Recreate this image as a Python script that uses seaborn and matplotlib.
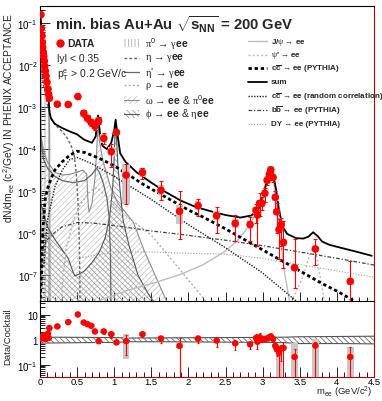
import numpy as np
import pandas as pd
import matplotlib
matplotlib.use("Agg")
import matplotlib.pyplot as plt
import seaborn as sns
from matplotlib.patches import Rectangle
from matplotlib.lines import Line2D
from matplotlib.ticker import LogLocator, MultipleLocator, NullFormatter, FixedLocator, FixedFormatter

# ---------------- data points (PHENIX min. bias Au+Au) ----------------
mass = [0.013, 0.018, 0.027, 0.031, 0.036, 0.045, 0.050, 0.058, 0.063, 0.072, 0.081, 0.094, 0.108, 0.117, 0.126,
        0.233, 0.38, 0.51, 0.59, 0.64, 0.69, 0.74, 0.79, 0.86, 0.96, 1.03,
        1.16, 1.38, 1.63, 1.88,
        2.13, 2.38, 2.63, 2.83,
        2.91, 2.93, 2.96, 2.99, 3.03, 3.06, 3.09, 3.11, 3.14, 3.17, 3.19, 3.22, 3.25, 3.28,
        3.43, 3.71, 4.18]
dndm = [1.58e-1, 7.4e-2, 5.0e-2, 3.47e-2, 2.63e-2, 2.0e-2, 1.62e-2, 1.26e-2, 9.5e-3, 7.2e-3, 5.4e-3, 3.9e-3, 2.7e-3, 2.0e-3, 1.62e-3,
        1.17e-3, 1.15e-3, 1.78e-3, 7.1e-4, 5.4e-4, 4.3e-4, 3.5e-4, 4.7e-4, 1.8e-4, 8.7e-5, 2.5e-4,
        2.4e-5, 2.75e-5, 1.05e-5, 3.3e-6,
        4.5e-6, 2.6e-6, 1.7e-6, 1.6e-6,
        3.5e-6, 2.7e-6, 5.1e-6, 5.1e-6, 8.9e-6, 1.8e-5, 2.5e-5, 3.2e-5, 2.1e-5, 7.1e-6, 3.2e-6, 1.2e-6, 1.6e-6, 6.0e-7,
        1.5e-7, 4.2e-7, 7.1e-8]
# statistical errors, in decades
stat_up = [0.03, 0.03, 0.03, 0.03, 0.03, 0.03, 0.03, 0.03, 0.03, 0.03, 0.03, 0.03, 0.03, 0.03, 0.03,
           0.03, 0.03, 0.06, 0.08, 0.08, 0.09, 0.09, 0.08, 0.12, 0.18, 0.05,
           0.26, 0.12, 0.23, 0.49,
           0.16, 0.20, 0.20, 0.18,
           0.15, 0.20, 0.25, 0.15, 0.12, 0.10, 0.06, 0.05, 0.08, 0.15, 0.20, 0.25, 0.15, 0.52,
           0.68, 0.24, 0.49]
stat_dn = [0.03, 0.03, 0.03, 0.03, 0.03, 0.03, 0.03, 0.03, 0.03, 0.03, 0.03, 0.03, 0.03, 0.03, 0.03,
           0.03, 0.03, 0.06, 0.08, 0.08, 0.09, 0.09, 0.08, 0.13, 0.37, 0.05,
           0.69, 0.15, 0.23, 0.66,
           0.25, 0.41, 0.41, 0.40,
           0.30, 0.73, 0.30, 0.15, 0.20, 0.10, 0.06, 0.05, 0.10, 0.30, 0.50, 0.70, 0.50, 0.60,
           0.48, 0.38, 0.46]
# systematic errors (grey boxes), in decades
sys_up = [0.05, 0.05, 0.05, 0.05, 0.05, 0.05, 0.05, 0.05, 0.05, 0.05, 0.05, 0.05, 0.05, 0.05, 0.05,
          0.06, 0.06, 0.07, 0.08, 0.08, 0.08, 0.08, 0.08, 0.10, 0.10, 0.06,
          0.26, 0.10, 0.12, 0.15,
          0.10, 0.10, 0.10, 0.10,
          0.08, 0.08, 0.08, 0.08, 0.08, 0.08, 0.08, 0.08, 0.08, 0.08, 0.08, 0.08, 0.08, 0.08,
          0.08, 0.08, 0.08]
sys_dn = [0.05, 0.05, 0.05, 0.05, 0.05, 0.05, 0.05, 0.05, 0.05, 0.05, 0.05, 0.05, 0.05, 0.05, 0.05,
          0.06, 0.06, 0.07, 0.08, 0.08, 0.08, 0.08, 0.08, 0.10, 0.10, 0.06,
          0.69, 0.10, 0.12, 0.30,
          0.10, 0.10, 0.10, 0.10,
          0.08, 0.08, 0.08, 0.08, 0.08, 0.08, 0.08, 0.08, 0.08, 0.08, 0.08, 0.08, 0.08, 0.08,
          0.08, 0.08, 0.08]

# ---------------- Data / Cocktail ----------------
ratio = [1.15, 1.2, 1.25, 1.35, 1.3, 1.2, 1.45, 1.55, 1.3, 1.1, 1.15, 1.25, 1.8, 1.2, 3.0,
         3.5, 5.2, 10.5, 5.0, 4.3, 3.7, 2.2, 0.9, 2.2, 1.7, 0.8,
         0.9, 1.7, 1.15, 0.58,
         1.15, 0.95, 0.74, 0.67,
         1.2, 0.85, 1.3, 1.05, 1.1, 1.15, 1.3, 1.4, 1.1, 0.58, 0.45, 0.31, 0.45, 0.48,
         0.21, 0.6, 0.21]
r_stat_up = [0.04] * 15 + [0.04, 0.04, 0.04, 0.06, 0.06, 0.06, 0.07, 0.08, 0.10, 0.12, 0.05,
                           0.25, 0.10, 0.10, 0.33,
                           0.10, 0.12, 0.12, 0.10,
                           0.15, 0.15, 0.15, 0.10, 0.06, 0.05, 0.05, 0.05, 0.08, 0.10, 0.15, 0.20, 0.15, 0.25,
                           0.30, 0.15, 0.40]
r_stat_dn = [0.04] * 15 + [0.04, 0.04, 0.04, 0.06, 0.06, 0.06, 0.07, 0.08, 0.10, 0.15, 0.05,
                           0.55, 0.10, 0.20, 1.40,
                           0.20, 0.25, 0.25, 0.20,
                           0.20, 0.30, 0.20, 0.10, 0.06, 0.05, 0.05, 0.05, 0.08, 0.20, 0.30, 1.30, 0.50, 1.20,
                           1.30, 1.30, 1.30]
r_sys_up = [0.05] * 15 + [0.05, 0.05, 0.05, 0.06, 0.06, 0.06, 0.06, 0.06, 0.08, 0.08, 0.05,
                          0.30, 0.08, 0.08, 0.10,
                          0.06, 0.06, 0.06, 0.06,
                          0.06, 0.06, 0.06, 0.06, 0.06, 0.06, 0.06, 0.06, 0.06, 0.06, 0.06, 0.30, 0.06, 0.06,
                          0.55, 0.25, 0.40]
r_sys_dn = [0.05] * 15 + [0.05, 0.05, 0.05, 0.06, 0.06, 0.06, 0.06, 0.06, 0.08, 0.08, 0.05,
                          0.70, 0.08, 0.08, 0.10,
                          0.06, 0.06, 0.06, 0.06,
                          0.06, 0.06, 0.06, 0.06, 0.06, 0.06, 0.06, 0.06, 0.06, 0.06, 0.06, 1.00, 0.06, 0.06,
                          1.30, 1.30, 1.30]
band_m = [0.0, 0.5, 1.0, 1.2, 1.7, 2.5, 3.0, 3.3, 3.5, 4.0, 4.5]
band_lo = [0.75, 0.78, 0.80, 0.85, 0.85, 0.82, 0.80, 0.78, 0.72, 0.72, 0.70]
band_hi = [1.30, 1.28, 1.25, 1.20, 1.22, 1.25, 1.27, 1.30, 1.35, 1.38, 1.42]

# ---------------- cocktail components: mass, log10(dN/dm) ----------------
pi0_m = [0.0, 0.01, 0.02, 0.03, 0.05, 0.07, 0.09, 0.11, 0.12, 0.13, 0.135]
pi0_log = [-0.75, -0.85, -1.15, -1.40, -1.85, -2.15, -2.45, -2.80, -3.05, -3.60, -8.5]
eta_m = [0.0, 0.02, 0.05, 0.10, 0.15, 0.20, 0.30, 0.36, 0.42, 0.46, 0.49, 0.51, 0.53, 0.545]
eta_log = [-1.9, -2.15, -2.5, -2.95, -3.25, -3.42, -3.58, -3.72, -3.92, -4.15, -4.6, -5.2, -6.2, -8.5]
etap_m = [0.0, 0.02, 0.05, 0.10, 0.20, 0.30, 0.45, 0.60, 0.70, 0.76, 0.80, 0.85, 0.90, 0.93, 0.95, 0.958]
etap_log = [-3.4, -3.9, -4.25, -4.45, -4.65, -4.75, -4.8, -4.75, -4.6, -4.45, -4.55, -4.8, -5.15, -5.6, -6.5, -8.5]
rho_m = [0.28, 0.30, 0.35, 0.45, 0.55, 0.65, 0.72, 0.77, 0.82, 0.90, 1.0, 1.2, 1.5, 1.9, 2.2, 2.4]
rho_log = [-8.5, -7.2, -6.4, -5.7, -5.3, -5.05, -4.95, -4.92, -5.0, -5.15, -5.35, -5.65, -6.05, -6.9, -7.55, -8.0]
omega_m = [0.0, 0.02, 0.05, 0.10, 0.20, 0.30, 0.40, 0.50, 0.58, 0.63, 0.645, 0.66, 0.70, 0.74, 0.765, 0.782,
           0.80, 0.85, 0.95, 1.05, 1.15, 1.26, 1.40, 1.55, 1.70, 1.80]
omega_log = [-3.3, -3.75, -4.05, -4.3, -4.55, -4.62, -4.6, -4.55, -4.5, -4.6, -5.2, -5.5, -5.3, -4.7, -4.0, -3.35,
             -3.8, -4.3, -4.9, -5.3, -5.5, -5.75, -6.4, -7.0, -7.6, -8.0]
phi_m = [0.0, 0.05, 0.10, 0.20, 0.30, 0.38, 0.44, 0.47, 0.52, 0.60, 0.70, 0.80, 0.88, 0.94, 0.98, 1.0,
         1.012, 1.019, 1.03, 1.05, 1.08, 1.12, 1.20, 1.32, 1.46, 1.60]
phi_log = [-5.2, -5.55, -5.85, -6.15, -6.4, -6.6, -6.9, -7.02, -6.98, -6.9, -6.7, -6.45, -6.1, -5.6, -4.9, -4.2,
           -3.6, -3.4, -3.7, -4.4, -5.0, -5.7, -6.3, -7.0, -7.45, -7.8]
jpsi_m = [0.8, 1.2, 1.6, 1.9, 2.2, 2.47, 2.65, 2.83, 2.93, 3.0, 3.05, 3.08, 3.10, 3.12, 3.15, 3.2, 3.25, 3.3, 3.36, 3.42]
jpsi_log = [-7.6, -7.35, -7.15, -6.98, -6.75, -6.46, -6.2, -5.8, -5.45, -5.1, -4.75, -4.55, -4.48, -4.52, -4.8, -5.5,
            -6.3, -7.0, -7.6, -8.0]
psip_m = [3.3, 3.45, 3.55, 3.62, 3.66, 3.69, 3.72, 3.76, 3.82, 3.9]
psip_log = [-8.0, -7.4, -7.0, -6.6, -6.38, -6.3, -6.45, -6.9, -7.5, -8.0]
ccbar_m = [0.0, 0.02, 0.04, 0.07, 0.1, 0.15, 0.2, 0.3, 0.4, 0.5, 0.6, 0.7, 0.8, 1.0, 1.2, 1.4, 1.6, 1.8,
           2.0, 2.2, 2.5, 2.8, 3.0, 3.2, 3.5, 3.8, 4.0, 4.2, 4.3]
ccbar_log = [-7.7, -7.0, -5.9, -5.2, -4.95, -4.7, -4.5, -4.3, -4.15, -4.05, -4.08, -4.15, -4.22, -4.4, -4.62, -4.85,
             -5.05, -5.25, -5.45, -5.62, -5.9, -6.2, -6.4, -6.6, -6.9, -7.2, -7.38, -7.58, -7.7]
ccrand_m = [0.05, 0.1, 0.2, 0.3, 0.4, 0.5, 0.7, 1.0, 1.5, 2.0, 2.5, 3.0, 3.44, 3.6]
ccrand_log = [-6.8, -5.7, -4.9, -4.5, -4.25, -4.2, -4.35, -4.65, -5.2, -5.8, -6.35, -6.95, -7.6, -7.9]
bbbar_m = [0.0, 0.01, 0.02, 0.05, 0.1, 0.2, 0.3, 0.5, 0.7, 1.0, 1.5, 1.9, 2.5, 3.0, 3.5, 4.0, 4.5]
bbbar_log = [-7.6, -6.9, -6.5, -6.3, -6.15, -5.98, -5.85, -5.75, -5.76, -5.82, -5.95, -6.03, -6.17, -6.3, -6.45,
             -6.6, -6.76]
dy_m = [0.5, 1.0, 1.5, 2.0, 2.5, 3.0, 3.5, 4.0, 4.5]
dy_log = [-6.6, -6.45, -6.45, -6.48, -6.5, -6.6, -6.75, -6.9, -7.05]
sum_m = [0.005, 0.02, 0.03, 0.05, 0.07, 0.09, 0.11, 0.12, 0.13, 0.15, 0.2, 0.3, 0.4, 0.5, 0.55, 0.6, 0.7, 0.75,
         0.782, 0.81, 0.84, 0.9, 0.96, 1.0, 1.019, 1.04, 1.08, 1.15, 1.3, 1.5, 1.7, 1.9, 2.1, 2.3, 2.5, 2.7,
         2.85, 2.95, 3.02, 3.06, 3.1, 3.14, 3.18, 3.22, 3.27, 3.33, 3.45, 3.55, 3.62, 3.68, 3.74, 3.8, 3.9,
         4.1, 4.3, 4.47]
sum_log = [-0.8, -1.15, -1.38, -1.82, -2.1, -2.4, -2.72, -2.92, -3.15, -3.28, -3.4, -3.5, -3.58, -3.65, -3.72,
           -3.78, -3.85, -3.7, -3.2, -3.65, -3.92, -4.0, -3.85, -3.55, -3.3, -3.6, -4.1, -4.3, -4.55, -4.8,
           -5.03, -5.23, -5.38, -5.48, -5.57, -5.63, -5.58, -5.4, -5.05, -4.7, -4.46, -4.6, -4.95, -5.45,
           -5.85, -6.02, -6.12, -6.13, -6.08, -5.98, -6.07, -6.2, -6.28, -6.37, -6.46, -6.54]

x_ticks = [0, 0.5, 1, 1.5, 2, 2.5, 3, 3.5, 4, 4.5]
x_ticklabels = ["0", "0.5", "1", "1.5", "2", "2.5", "3", "3.5", "4", "4.5"]

# ---------------- style ----------------
sns.set_theme(style="ticks")
plt.rcParams.update({
    "mathtext.fontset": "custom",
    "mathtext.rm": "Liberation Serif",
    "mathtext.it": "Liberation Sans:italic",
    "mathtext.bf": "Liberation Sans:bold",
    "mathtext.sf": "Liberation Sans",
    "mathtext.default": "regular",
    "hatch.linewidth": 0.5,
    "axes.linewidth": 0.8,
})
plt.rcParams['font.family'] = ['Liberation Sans', 'DejaVu Sans']

W, H = 382, 402
fig = plt.figure(figsize=(W / 100, H / 100), dpi=100)
fig.patch.set_facecolor("white")


def fx(p):
    return p / W


def fy(p):
    return 1 - p / H


ax = fig.add_axes([fx(40), fy(303), fx(374) - fx(40), fy(7) - fy(303)])
axr = fig.add_axes([fx(40), fy(378), fx(374) - fx(40), fy(302) - fy(378)])


def P(a):
    return 10.0 ** np.asarray(a, dtype=float)


ax.set_yscale("log")
ax.set_xlim(0, 4.5)
ax.set_ylim(10 ** -7.64, 10 ** -0.595)
FLOOR = 1e-10

# hatched regions
ax.fill_between(pi0_m, FLOOR, P(pi0_log), facecolor="none", edgecolor="#a0a0a0", hatch="|||||", lw=0, zorder=1)
ax.fill_between(omega_m, FLOOR, P(omega_log), facecolor="none", edgecolor="#c0c0c0", hatch="//////", lw=0, zorder=1)
ax.fill_between(phi_m, FLOOR, P(phi_log), facecolor="none", edgecolor="#909090", hatch="\\\\\\\\\\\\", lw=0, zorder=1)


def curve(m, lg, **kw):
    sns.lineplot(x=m, y=P(lg), ax=ax, estimator=None, sort=False, legend=False, **kw)


curve(pi0_m, pi0_log, color="#8c8c8c", lw=0.8, zorder=2)
curve(omega_m, omega_log, color="#8c8c8c", lw=0.8, zorder=2)
curve(phi_m, phi_log, color="#555555", lw=0.8, zorder=2)
curve(eta_m, eta_log, color="#666666", lw=1.0, linestyle=(0, (2, 1.5)), zorder=2)
curve(etap_m, etap_log, color="#666666", lw=0.9, zorder=2)
curve(rho_m, rho_log, color="#b0b0b0", lw=1.0, linestyle=(0, (1.5, 1.5)), zorder=2)
curve(jpsi_m, jpsi_log, color="#bdbdbd", lw=1.0, zorder=2)
curve(psip_m, psip_log, color="#bdbdbd", lw=1.0, linestyle=(0, (1.5, 1.5)), zorder=2)
curve(dy_m, dy_log, color="#a0a0a0", lw=0.8, linestyle=(0, (1, 1.5)), zorder=2)
curve(bbbar_m, bbbar_log, color="#444444", lw=0.9, linestyle=(0, (3, 1.5, 1, 1.5)), zorder=3)
curve(ccrand_m, ccrand_log, color="#222222", lw=1.0, linestyle=(0, (1, 1)), zorder=3)
curve(ccbar_m, ccbar_log, color="black", lw=2.0, linestyle=(0, (1.2, 1.0)), zorder=3)
curve(sum_m, sum_log, color="black", lw=1.3, zorder=4)

# data: systematic boxes, stat. errors, markers
mass_a = np.asarray(mass)
y_a = np.asarray(dndm)
for m, y, su, sd in zip(mass, dndm, sys_up, sys_dn):
    hw = 0.055 if su > 0.2 else 0.045
    ax.add_patch(Rectangle((m - hw, y * 10 ** -sd), 2 * hw, y * (10 ** su - 10 ** -sd),
                           facecolor="#c8c8c8", edgecolor="none", zorder=5))
lo = y_a - y_a * 10 ** -np.asarray(stat_dn)
hi = y_a * 10 ** np.asarray(stat_up) - y_a
ax.errorbar(mass_a, y_a, yerr=[lo, hi], fmt="none", ecolor="red", elinewidth=0.8, capsize=1.5, capthick=0.8, zorder=6)
sns.scatterplot(x=mass, y=dndm, ax=ax, color="red", s=30, edgecolor="none", zorder=7, legend=False)

# ---------------- ratio panel ----------------
axr.set_yscale("log")
axr.set_xlim(0, 4.5)
axr.set_ylim(10 ** -1.48, 10 ** 1.56)
axr.fill_between(band_m, band_lo, band_hi, facecolor="white", edgecolor="#555555", hatch="\\\\\\\\\\\\", lw=0, zorder=1)
sns.lineplot(x=band_m, y=band_lo, ax=axr, color="#555555", lw=0.8, estimator=None, legend=False, zorder=2)
sns.lineplot(x=band_m, y=band_hi, ax=axr, color="#555555", lw=0.8, estimator=None, legend=False, zorder=2)
r_a = np.asarray(ratio)
for m, r, su, sd in zip(mass, ratio, r_sys_up, r_sys_dn):
    hw = 0.045
    axr.add_patch(Rectangle((m - hw, r * 10 ** -sd), 2 * hw, r * (10 ** su - 10 ** -sd),
                            facecolor="#c8c8c8", edgecolor="none", zorder=5))
rlo = r_a - r_a * 10 ** -np.asarray(r_stat_dn)
rhi = r_a * 10 ** np.asarray(r_stat_up) - r_a
axr.errorbar(mass_a, r_a, yerr=[rlo, rhi], fmt="none", ecolor="red", elinewidth=0.8, capsize=1.0, capthick=0.8, zorder=6)
sns.scatterplot(x=mass, y=ratio, ax=axr, color="red", s=22, edgecolor="none", zorder=7, legend=False)

# ---------------- axes cosmetics ----------------
for a in (ax, axr):
    a.xaxis.set_major_locator(FixedLocator(x_ticks))
    a.xaxis.set_minor_locator(MultipleLocator(0.1))
    a.tick_params(which="both", direction="in", top=False, right=False, labelsize=7, pad=1.5,
                  colors="black", width=0.6)
    a.tick_params(which="major", length=7)
    a.tick_params(which="minor", length=3.5)
    a.spines["right"].set_color("#b00000")
    a.spines["bottom"].set_color("#b00000")
    a.spines["left"].set_color("black")
    a.spines["top"].set_color("black")
    a.set_facecolor("white")

ax.xaxis.set_major_formatter(NullFormatter())
axr.xaxis.set_major_formatter(FixedFormatter(x_ticklabels))
axr.tick_params(axis="x", labelsize=6.8, pad=0)
ax.yaxis.set_major_locator(LogLocator(base=10, numticks=20))
ax.yaxis.set_minor_locator(LogLocator(base=10, subs=np.arange(2, 10), numticks=20))
ax.yaxis.set_minor_formatter(NullFormatter())
axr.yaxis.set_major_locator(FixedLocator([0.1, 1, 10]))
axr.yaxis.set_major_formatter(FixedFormatter([r"$10^{-1}$", "1", "10"]))
axr.yaxis.set_minor_locator(LogLocator(base=10, subs=np.arange(2, 10), numticks=20))
axr.yaxis.set_minor_formatter(NullFormatter())
ax.set_xlabel("")
ax.set_ylabel("")
axr.set_xlabel("")
axr.set_ylabel("")

# axis titles
fig.text(fx(9), fy(13), r"dN/dm$_{ee}$ (c$^{2}$/GeV) IN PHENIX ACCEPTANCE", rotation=90, ha="center", va="top",
         fontsize=7.4)
fig.text(fx(8), fy(337), "Data/Cocktail", rotation=90, ha="center", va="center", fontsize=6.8)
fig.text(fx(373), fy(400.5), r"m$_{ee}$ (GeV/c$^{2}$)", ha="right", va="bottom", fontsize=6.8)

# title
fig.text(fx(55), fy(25), r"min. bias Au+Au $\sqrt{\mathbf{s}_{\mathbf{NN}}}$ = 200 GeV", ha="left", va="center",
         fontsize=10.7, fontweight="bold")

# left legend block
fig.add_artist(Line2D([fx(60)], [fy(44)], marker="o", color="red", markersize=5, transform=fig.transFigure))
fig.text(fx(67), fy(44), "DATA", ha="left", va="center", fontsize=7.5, fontweight="bold")
fig.text(fx(57), fy(59), "lyl < 0.35", ha="left", va="center", fontsize=7.5)
fig.text(fx(57), fy(75), r"p$_{T}^{e}$ > 0.2 GeV/c", ha="left", va="center", fontsize=7.5)

# middle legend column
mid_rows = [44, 58.5, 72.5, 86, 100.5, 114.5]
mid_labels = [r"$\mathrm{\pi}^{0}$ → $\mathrm{\gamma}$$\mathbf{ee}$",
              r"$\mathrm{\eta}$ → $\mathrm{\gamma}$$\mathbf{ee}$",
              r"$\mathrm{\eta}$' → $\mathrm{\gamma}$$\mathbf{ee}$",
              r"$\mathrm{\rho}$ → $\mathbf{ee}$",
              r"$\mathrm{\omega}$ → $\mathbf{ee}$ & $\mathrm{\pi}^{0}$$\mathbf{ee}$",
              r"$\mathrm{\phi}$ → $\mathbf{ee}$ & $\mathrm{\eta}$$\mathbf{ee}$"]
x0, x1 = 124, 139
for i, (yy, lab) in enumerate(zip(mid_rows, mid_labels)):
    if i == 0:
        fig.add_artist(Rectangle((fx(x0), fy(yy + 4)), fx(x1) - fx(x0), fy(yy - 4) - fy(yy + 4),
                                 facecolor="none", edgecolor="#a0a0a0", hatch="|||||", lw=0,
                                 transform=fig.transFigure))
    elif i == 1:
        fig.add_artist(Line2D([fx(x0), fx(x1)], [fy(yy), fy(yy)], color="#666666", lw=1.0,
                              linestyle=(0, (2, 1.5)), transform=fig.transFigure))
    elif i == 2:
        fig.add_artist(Line2D([fx(x0), fx(x1)], [fy(yy), fy(yy)], color="#666666", lw=0.9,
                              transform=fig.transFigure))
    elif i == 3:
        fig.add_artist(Line2D([fx(x0), fx(x1)], [fy(yy), fy(yy)], color="#b0b0b0", lw=1.0,
                              linestyle=(0, (1.5, 1.5)), transform=fig.transFigure))
    elif i == 4:
        fig.add_artist(Rectangle((fx(x0), fy(yy + 4)), fx(x1) - fx(x0), fy(yy - 4) - fy(yy + 4),
                                 facecolor="none", edgecolor="#c0c0c0", hatch="//////", lw=0,
                                 transform=fig.transFigure))
        fig.add_artist(Line2D([fx(x0), fx(x1)], [fy(yy), fy(yy)], color="#8c8c8c", lw=0.8,
                              transform=fig.transFigure))
    else:
        fig.add_artist(Rectangle((fx(x0), fy(yy + 4)), fx(x1) - fx(x0), fy(yy - 4) - fy(yy + 4),
                                 facecolor="none", edgecolor="#909090", hatch="\\\\\\\\\\\\", lw=0,
                                 transform=fig.transFigure))
        fig.add_artist(Line2D([fx(x0), fx(x1)], [fy(yy), fy(yy)], color="#555555", lw=0.8,
                              transform=fig.transFigure))
    fig.text(fx(145), fy(yy), lab, ha="left", va="center", fontsize=7.5)

# right legend column
right_rows = [42, 55.5, 69, 83, 97, 111, 124.5]
right_labels = [r"J/$\mathrm{\psi}$ → ee", r"$\mathrm{\psi}$' → ee",
                r"c$\mathbf{\overline{c}}$ → ee (PYTHIA)", "sum",
                r"c$\mathbf{\overline{c}}$ → ee (random correlation)",
                r"b$\mathbf{\overline{b}}$ → ee (PYTHIA)", "DY → ee (PYTHIA)"]
right_styles = [dict(color="#bdbdbd", lw=1.0),
                dict(color="#bdbdbd", lw=1.0, linestyle=(0, (1.5, 1.5))),
                dict(color="black", lw=2.0, linestyle=(0, (1.2, 1.0))),
                dict(color="black", lw=1.3),
                dict(color="#222222", lw=1.0, linestyle=(0, (1, 1))),
                dict(color="#444444", lw=0.9, linestyle=(0, (3, 1.5, 1, 1.5))),
                dict(color="#a0a0a0", lw=0.8, linestyle=(0, (1, 1.5)))]
for yy, lab, st in zip(right_rows, right_labels, right_styles):
    fig.add_artist(Line2D([fx(248), fx(267)], [fy(yy), fy(yy)], transform=fig.transFigure, **st))
    fig.text(fx(271), fy(yy), lab, ha="left", va="center", fontsize=5.8, fontweight="bold")

fig.savefig("out.png", dpi=100, facecolor="white")
